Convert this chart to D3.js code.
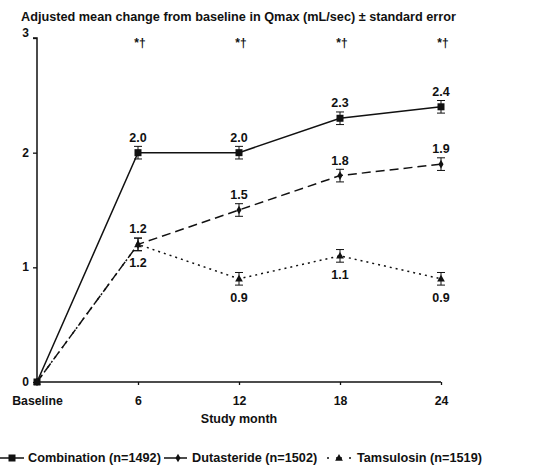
<!DOCTYPE html>
<html>
<head>
<meta charset="utf-8">
<script src="https://cdn.jsdelivr.net/npm/d3@7"></script>
<style>
  body { margin: 0; background: #fff; }
  text { font-family: "Liberation Sans", Arial, sans-serif; font-weight: bold; fill: #111; }
</style>
</head>
<body>
<svg id="chart" width="538" height="466"></svg>
<script>
var months = [0, 6, 12, 18, 24];
var monthLabels = ["Baseline", "6", "12", "18", "24"];
var combination = [0, 2.0, 2.0, 2.3, 2.4];
var dutasteride = [0, 1.2, 1.5, 1.8, 1.9];
var tamsulosin = [0, 1.2, 0.9, 1.1, 0.9];
var stdErr = 0.055;
var yTicks = [0, 1, 2, 3];
var sigMarks = ["*†", "*†", "*†", "*†"];

var svg = d3.select('#chart');

var x = d3.scaleLinear().domain([0, 24]).range([37, 441]);
var y = d3.scaleLinear().domain([0, 3]).range([382, 38]);

// title
svg.append("text")
    .attr("x", 21).attr("y", 21)
    .attr("font-size", "12.7px")
    .text("Adjusted mean change from baseline in Qmax (mL/sec) ± standard error");

// axes
var yAxis = d3.axisLeft(y).tickValues(yTicks).tickSize(4).tickFormat(d3.format("d"));
var gy = svg.append("g").attr("transform", "translate(37,0)").call(yAxis);
gy.select(".domain").attr("stroke", "#111").attr("stroke-width", 1.5).attr("d", "M-4,38H0V382");
gy.selectAll(".tick line").attr("stroke", "#111").attr("stroke-width", 1.3);
gy.selectAll(".tick text").attr("font-size", "12px").attr("x", -8).attr("dy", "0.3em")
    .attr("font-family", null);
gy.selectAll(".tick").filter(function(d) { return d === 3; })
    .select("text").attr("dy", "-0.15em");

var xAxis = d3.axisBottom(x).tickValues(months).tickSize(3)
    .tickFormat(function(d, i) { return monthLabels[i]; });
var gx = svg.append("g").attr("transform", "translate(0,382)").call(xAxis);
gx.select(".domain").attr("stroke", "#111").attr("stroke-width", 1.5).attr("d", "M37,0H441");
gx.selectAll(".tick line").attr("stroke", "#111").attr("stroke-width", 1.3);
gx.selectAll(".tick text").attr("font-size", "12.3px").attr("y", 23).attr("dy", null)
    .attr("font-family", null);

svg.append("text")
    .attr("x", x(12)).attr("y", 423)
    .attr("text-anchor", "middle")
    .attr("font-size", "12.5px")
    .text("Study month");

// significance markers
svg.selectAll(".sig").data(sigMarks).enter().append("text")
    .attr("class", "sig")
    .attr("x", function(d, i) { return x(months[i + 1]) + 2; })
    .attr("y", 47)
    .attr("text-anchor", "middle")
    .attr("font-size", "12px")
    .text(function(d) { return d; });

var series = [
    {name: "Combination (n=1492)", values: combination, dash: null, marker: "square", labelPos: "above"},
    {name: "Dutasteride (n=1502)", values: dutasteride, dash: "9,5", marker: "diamond", labelPos: "above"},
    {name: "Tamsulosin (n=1519)", values: tamsulosin, dash: "2,4", marker: "triangle", labelPos: "below"}
];

var line = d3.line()
    .x(function(d, i) { return x(months[i]); })
    .y(function(d) { return y(d); });

function drawMarker(g, type, cx, cy) {
    if (type === "square") {
        g.append("rect").attr("x", cx - 3.5).attr("y", cy - 3.5).attr("width", 7).attr("height", 7).attr("fill", "#111");
    } else if (type === "diamond") {
        g.append("path").attr("d", d3.symbol().type(d3.symbolDiamond).size(22)())
            .attr("transform", "translate(" + cx + "," + cy + ")").attr("fill", "#111");
    } else {
        g.append("path").attr("d", d3.symbol().type(d3.symbolTriangle).size(26)())
            .attr("transform", "translate(" + cx + "," + (cy + 0.5) + ")").attr("fill", "#111");
    }
}

series.forEach(function(s) {
    svg.append("path")
        .datum(s.values)
        .attr("d", line)
        .attr("fill", "none")
        .attr("stroke", "#111")
        .attr("stroke-width", 1.5)
        .attr("stroke-dasharray", s.dash);

    var g = svg.append("g");
    s.values.forEach(function(v, i) {
        if (i === 0) return;
        var cx = x(months[i]);
        var top = y(v + stdErr), bot = y(v - stdErr);
        g.append("path")
            .attr("d", "M" + (cx - 4) + "," + top + "H" + (cx + 4) + "M" + cx + "," + top + "V" + bot +
                "M" + (cx - 4) + "," + bot + "H" + (cx + 4))
            .attr("stroke", "#111").attr("stroke-width", 1).attr("fill", "none");
        drawMarker(g, s.marker, cx, y(v));
        g.append("text")
            .attr("x", cx)
            .attr("y", s.labelPos === "above" ? y(v) - 11 : y(v) + 23)
            .attr("text-anchor", "middle")
            .attr("font-size", "12.5px")
            .text(v.toFixed(1));
    });
    drawMarker(g, s.marker, x(0), y(0));
});

// legend
var legendItems = [
    {s: series[0], x0: 0, x1: 24, mx: 12, tx: 28},
    {s: series[1], x0: 164, x1: 187, mx: 178, tx: 192},
    {s: series[2], x0: 327, x1: 351, mx: 339, tx: 357}
];
var lg = svg.append("g").attr("transform", "translate(0,462)");
legendItems.forEach(function(it) {
    lg.append("line")
        .attr("x1", it.x0).attr("x2", it.x1).attr("y1", -4).attr("y2", -4)
        .attr("stroke", "#111").attr("stroke-width", 1.5)
        .attr("stroke-dasharray", it.s.marker === "triangle" ? "2,7,6,7,2" : null);
    drawMarker(lg, it.s.marker, it.mx, -4);
    lg.append("text").attr("x", it.tx).attr("y", 0).attr("font-size", "12.7px").text(it.s.name);
});
</script>
</body>
</html>
